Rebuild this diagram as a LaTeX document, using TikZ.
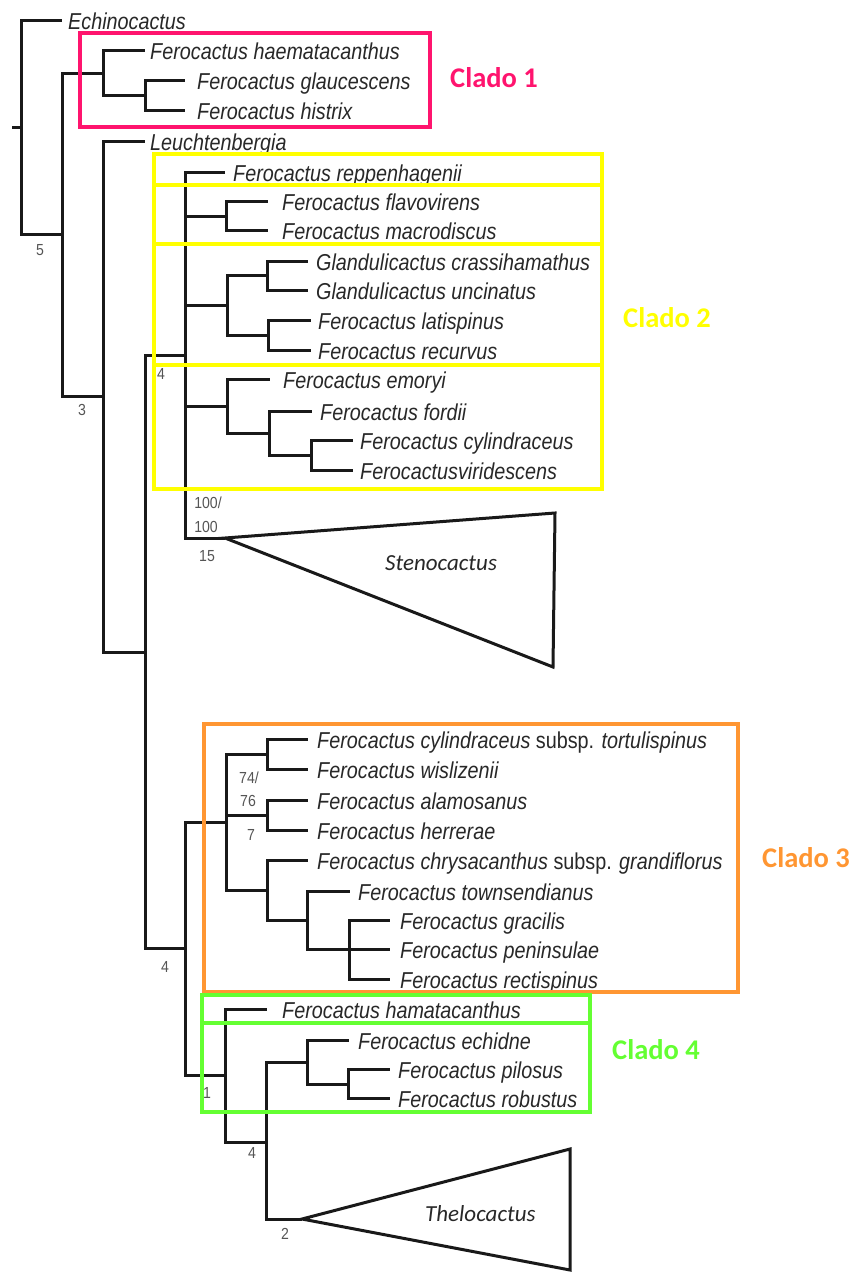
\documentclass[tikz,border=0pt]{standalone}
\usepackage{fontspec}
\setmainfont{Liberation Sans}
\newfontfamily\treefont[FakeStretch=0.86]{Liberation Sans}
\newfontfamily\numfont[FakeStretch=0.88]{Liberation Sans}
\newfontfamily\cladefont{Carlito}
\definecolor{pinkc}{RGB}{255,20,110}
\definecolor{yelc}{RGB}{255,255,0}
\definecolor{orc}{RGB}{255,150,50}
\definecolor{grc}{RGB}{100,255,50}
\definecolor{labc}{RGB}{40,40,40}
\definecolor{supc}{RGB}{85,85,85}
\begin{document}
\begin{tikzpicture}[x=1pt,y=-1pt,
  br/.style={line width=3pt, line join=miter, draw=black!90},
  tip/.style={anchor=base west, inner sep=0pt, text=labc, font=\treefont\fontsize{23}{25}\selectfont\itshape},
  supp/.style={inner sep=0pt, text=supc, font=\numfont\fontsize{16}{17}\selectfont},
  clbox/.style={line width=4.5pt},
  cl/.style={anchor=base west, inner sep=0pt, font=\cladefont\bfseries\fontsize{28.5}{30}\selectfont},
  grp/.style={anchor=base west, inner sep=0pt, text=labc, font=\cladefont\itshape\fontsize{23}{25}\selectfont},
  tri/.style={line width=3pt, line join=miter, draw=black!90}]
\useasboundingbox[fill=white] (0,0) rectangle (851,1274);

% ---- coordinates of the tree
\coordinate (nr0) at (12,127);
\coordinate (nr) at (21,127);
\coordinate (lechi) at (62,20);
\coordinate (na) at (62,234);
\coordinate (nc1) at (103,73);
\coordinate (lhaem) at (145,50);
\coordinate (ng) at (145,95);
\coordinate (lglau) at (185,80);
\coordinate (lhist) at (185,110);
\coordinate (nb) at (103,396);
\coordinate (lleuc) at (145,141);
\coordinate (nd) at (145,652);
\coordinate (nf) at (185,355);
\coordinate (lrepp) at (225,172);
\coordinate (nfl) at (226,216);
\coordinate (lflav) at (268,201);
\coordinate (lmacr) at (268,230);
\coordinate (ngl) at (227,305);
\coordinate (ng1) at (267,275);
\coordinate (lcras) at (308,261);
\coordinate (lunci) at (308,290);
\coordinate (ng2) at (268,335);
\coordinate (llati) at (311,320);
\coordinate (lrecu) at (311,350);
\coordinate (nem) at (227,406);
\coordinate (lemor) at (270,379);
\coordinate (nfo) at (269,433);
\coordinate (lford) at (312,411);
\coordinate (ncy) at (311,455);
\coordinate (lcyli) at (353,440);
\coordinate (lviri) at (353,470);
\coordinate (lsten) at (225,538);
\coordinate (st1) at (555,513);
\coordinate (st2) at (553,667);
\coordinate (nl) at (185,948);
\coordinate (no) at (226,822);
\coordinate (no1) at (267,754);
\coordinate (ltort) at (308,739);
\coordinate (lwisl) at (308,769);
\coordinate (no2) at (267,815);
\coordinate (lalam) at (308,800);
\coordinate (lherr) at (308,830);
\coordinate (no3) at (267,890);
\coordinate (lchry) at (308,860);
\coordinate (nt) at (307,920);
\coordinate (ltown) at (350,891);
\coordinate (ngp) at (349,949);
\coordinate (lgrac) at (390,920);
\coordinate (lpeni) at (390,949);
\coordinate (lrect) at (390,979);
\coordinate (nh) at (225,1075);
\coordinate (lhama) at (267,1009);
\coordinate (nk) at (266,1142);
\coordinate (nec) at (307,1062);
\coordinate (lechd) at (349,1040);
\coordinate (npr) at (348,1084);
\coordinate (lpilo) at (390,1069);
\coordinate (lrobu) at (390,1098);
\coordinate (lthel) at (302,1219);
\coordinate (th1) at (570,1149);
\coordinate (th2) at (570,1270);

% ---- branches
\draw[br] (nr0) -- (nr);
\draw[br] (nr) |- (lechi);  \draw[br] (nr) |- (na);
\draw[br] (na) |- (nc1);    \draw[br] (na) |- (nb);
\draw[br] (nc1) |- (lhaem); \draw[br] (nc1) |- (ng);
\draw[br] (ng) |- (lglau);  \draw[br] (ng) |- (lhist);
\draw[br] (nb) |- (lleuc);  \draw[br] (nb) |- (nd);
\draw[br] (nd) |- (nf);     \draw[br] (nd) |- (nl);
\draw[br] (nf) |- (lrepp);  \draw[br] (nf) |- (nfl); \draw[br] (nf) |- (ngl);
\draw[br] (nf) |- (nem);    \draw[br] (nf) |- (lsten);
\draw[br] (nfl) |- (lflav); \draw[br] (nfl) |- (lmacr);
\draw[br] (ngl) |- (ng1);   \draw[br] (ngl) |- (ng2);
\draw[br] (ng1) |- (lcras); \draw[br] (ng1) |- (lunci);
\draw[br] (ng2) |- (llati); \draw[br] (ng2) |- (lrecu);
\draw[br] (nem) |- (lemor); \draw[br] (nem) |- (nfo);
\draw[br] (nfo) |- (lford); \draw[br] (nfo) |- (ncy);
\draw[br] (ncy) |- (lcyli); \draw[br] (ncy) |- (lviri);
\draw[tri] (lsten) -- (st1) -- (st2) -- cycle;
\draw[br] (nl) |- (no);     \draw[br] (nl) |- (nh);
\draw[br] (no) |- (no1);    \draw[br] (no) |- (no2); \draw[br] (no) |- (no3);
\draw[br] (no1) |- (ltort); \draw[br] (no1) |- (lwisl);
\draw[br] (no2) |- (lalam); \draw[br] (no2) |- (lherr);
\draw[br] (no3) |- (lchry); \draw[br] (no3) |- (nt);
\draw[br] (nt) |- (ltown);  \draw[br] (nt) |- (ngp);
\draw[br] (ngp) |- (lgrac); \draw[br] (ngp) -- (lpeni); \draw[br] (ngp) |- (lrect);
\draw[br] (nh) |- (lhama);  \draw[br] (nh) |- (nk);
\draw[br] (nk) |- (nec);    \draw[br] (nk) |- (lthel);
\draw[br] (nec) |- (lechd); \draw[br] (nec) |- (npr);
\draw[br] (npr) |- (lpilo); \draw[br] (npr) |- (lrobu);
\draw[tri] (lthel) -- (th1) -- (th2) -- cycle;

% ---- tip labels
\node[tip] (techi) at (68,29) {Echinocactus};
\node[tip] (thaem) at (150,59) {Ferocactus haematacanthus};
\node[tip] (tglau) at (197,89) {Ferocactus glaucescens};
\node[tip] (thist) at (197,119) {Ferocactus histrix};
\node[tip] (tleuc) at (150,150) {Leuchtenbergia};
\node[tip] (trepp) at (233,181) {Ferocactus reppenhagenii};
\node[tip] (tflav) at (282,210) {Ferocactus flavovirens};
\node[tip] (tmacr) at (282,239) {Ferocactus macrodiscus};
\node[tip] (tcras) at (316,270) {Glandulicactus crassihamathus};
\node[tip] (tunci) at (316,299) {Glandulicactus uncinatus};
\node[tip] (tlati) at (318,329) {Ferocactus latispinus};
\node[tip] (trecu) at (318,359) {Ferocactus recurvus};
\node[tip] (temor) at (283,388) {Ferocactus emoryi};
\node[tip] (tford) at (320,420) {Ferocactus fordii};
\node[tip] (tcyli) at (360,449) {Ferocactus cylindraceus};
\node[tip] (tviri) at (360,479) {Ferocactusviridescens};
\node[tip] (ttort) at (317,748) {Ferocactus cylindraceus \textup{subsp.} tortulispinus};
\node[tip] (twisl) at (317,778) {Ferocactus wislizenii};
\node[tip] (talam) at (317,809) {Ferocactus alamosanus};
\node[tip] (therr) at (317,839) {Ferocactus herrerae};
\node[tip] (tchry) at (317,869) {Ferocactus chrysacanthus \textup{subsp.} grandiflorus};
\node[tip] (ttown) at (358,900) {Ferocactus townsendianus};
\node[tip] (tgrac) at (400,929) {Ferocactus gracilis};
\node[tip] (tpeni) at (400,958) {Ferocactus peninsulae};
\node[tip] (trect) at (400,988) {Ferocactus rectispinus};
\node[tip] (thama) at (282,1018) {Ferocactus hamatacanthus};
\node[tip] (techd) at (358,1049) {Ferocactus echidne};
\node[tip] (tpilo) at (398,1078) {Ferocactus pilosus};
\node[tip] (trobu) at (398,1107) {Ferocactus robustus};
\node[grp] (gsten) at (385,570) {Stenocactus};
\node[grp] (gthel) at (425,1221) {Thelocactus};

% ---- support values
\node[supp] (s1) at (40,250) {5};
\node[supp] (s2) at (82,410) {3};
\node[supp] (s3) at (161,374) {4};
\node[supp] (s4) at (208,503) {100/};
\node[supp] (s5) at (206,527) {100};
\node[supp] (s6) at (207,556) {15};
\node[supp] (s7) at (249,778) {74/};
\node[supp] (s8) at (248,801) {76};
\node[supp] (s9) at (251,835) {7};
\node[supp] (s10) at (165,967) {4};
\node[supp] (s11) at (207,1093) {1};
\node[supp] (s12) at (252,1153) {4};
\node[supp] (s13) at (285,1234) {2};

% ---- clade boxes
\draw[clbox,pinkc] (80,33) rectangle (430,127);
\draw[clbox,yelc] (154,154) rectangle (602,185);
\draw[clbox,yelc] (154,185) rectangle (602,244);
\draw[clbox,yelc] (154,244) rectangle (602,365);
\draw[clbox,yelc] (154,365) rectangle (602,489);
\draw[clbox,orc] (204,724) rectangle (738,992);
\draw[clbox,grc] (202,995) rectangle (590,1023);
\draw[clbox,grc] (202,1023) rectangle (590,1112);

\node[cl,text=pinkc] (c1) at (450,87) {Clado 1};
\node[cl,text=yelc] (c2) at (623,327) {Clado 2};
\node[cl,text=orc] (c3) at (762,867) {Clado 3};
\node[cl,text=grc] (c4) at (612,1059) {Clado 4};
\end{tikzpicture}
\end{document}
